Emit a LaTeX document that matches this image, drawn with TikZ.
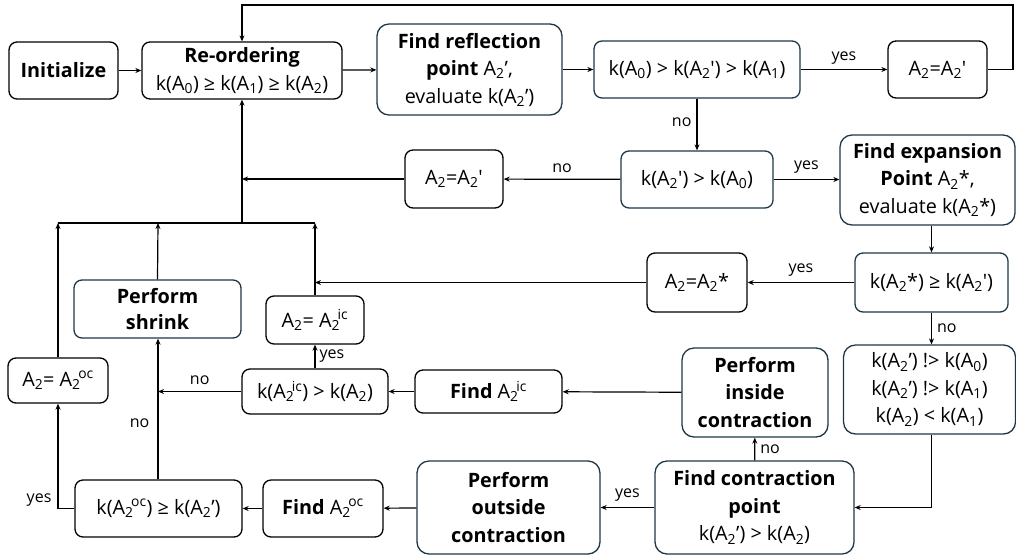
\documentclass[tikz,border=0pt]{standalone}
\usepackage{fontspec}
\setmainfont{Open Sans}
\usetikzlibrary{arrows.meta}
\definecolor{bbord}{RGB}{30,55,72}
\newcommand\sbx[1]{\textsubscript{#1}}
\newcommand\Asx[1]{A\textsubscript{2}\kern-0.12em\textsuperscript{#1}}
\newcommand\qs{\textquotesingle}
\begin{document}
\begin{tikzpicture}[x=1pt,y=-1pt,
  sz/.style n args={2}{minimum width=#1pt, minimum height=#2pt},
  box/.style={draw=black, line width=1.3pt, rounded corners=8pt, align=center, inner sep=0pt, font=\fontsize{19.8}{27.5}\selectfont},
  bbox/.style={box, draw=bbord},
  lbl/.style={font=\fontsize{16}{18}\selectfont, inner sep=0pt},
  arr/.style={line width=1.2pt, -{Stealth[length=6pt,width=5pt]}},
  ln/.style={line width=1.2pt}]
\useasboundingbox (0,0) rectangle (1016,555);
% nodes
\node[box, sz={109}{57}] (init) at (63.5,70.5) {\textbf{Initialize}};
\node[box, sz={200}{57}] (reorder) at (242,70.5) {\textbf{Re-ordering}\\ k(A\sbx0) ≥ k(A\sbx1) ≥ k(A\sbx2)};
\node[bbox, sz={185}{91}, rounded corners=12pt] (reflect) at (469.5,69.5) {\textbf{Find reflection}\\ \textbf{point} A\sbx2’,\\ evaluate k(A\sbx2’)};
\node[bbox, sz={206}{57}] (cond1) at (697,69.5) {k(A\sbx0) > k(A\sbx2\qs) > k(A\sbx1)};
\node[box, sz={99}{57}] (set1) at (937.5,69.5) {A\sbx2=A\sbx2\qs};
\node[bbox, sz={152}{57}] (cond2) at (697,179.5) {k(A\sbx2\qs) > k(A\sbx0)};
\node[box, sz={98}{58}] (set2) at (454,179) {A\sbx2=A\sbx2\qs};
\node[bbox, sz={175}{90}, rounded corners=12pt] (expand) at (927.5,180) {\textbf{Find expansion}\\ \textbf{Point} A\sbx2*,\\ evaluate k(A\sbx2*)};
\node[bbox, sz={153}{59}] (cond3) at (931.5,282.5) {k(A\sbx2*) ≥ k(A\sbx2\qs)};
\node[box, sz={100}{59}] (set3) at (697,282.5) {A\sbx2=A\sbx2*};
\node[bbox, sz={167}{58}] (shrink) at (157.5,309) {\textbf{Perform}\\[-1pt] \textbf{shrink}};
\node[box, sz={98}{48}] (setic) at (315,320) {A\sbx2= \Asx{ic}};
\node[box, sz={100}{45}] (setoc) at (58,380.5) {A\sbx2= \Asx{oc}};
\node[box, sz={146}{45}] (condic) at (315,391.5) {k(\Asx{ic}) > k(A\sbx2)};
\node[box, sz={147}{43}] (findic) at (488.5,391.5) {\textbf{Find} \Asx{ic}};
\node[bbox, sz={146}{89}, rounded corners=12pt] (inside) at (755,392.5) {\textbf{Perform}\\ \textbf{inside}\\ \textbf{contraction}};
\node[bbox, sz={172}{89}, rounded corners=12pt] (cond4) at (929.5,389.5) {k(A\sbx2’) !> k(A\sbx0)\\ k(A\sbx2’) !> k(A\sbx1)\\ k(A\sbx2) < k(A\sbx1)};
\node[bbox, sz={183}{93}, rounded corners=12pt] (outside) at (508.5,507.5) {\textbf{Perform}\\ \textbf{outside}\\ \textbf{contraction}};
\node[bbox, sz={199}{93}, rounded corners=12pt] (contract) at (754.5,507.5) {\textbf{Find contraction}\\ \textbf{point}\\ k(A\sbx2’) > k(A\sbx2)};
\node[box, sz={120}{57}] (findoc) at (323,508.5) {\textbf{Find} \Asx{oc}};
\node[box, sz={167}{57}] (condoc) at (158.5,508.5) {k(\Asx{oc}) ≥ k(A\sbx2’)};
% junction coordinates
\coordinate (topR) at (1013,5);
\coordinate (busL) at (58,223);
\coordinate (busM) at (158,223);
\coordinate (busC) at (242,223);
\coordinate (busR) at (315,223);
\coordinate (j1) at (242,179);
\coordinate (j2) at (315,282.5);
\coordinate (j3) at (158,391.5);
% connectors
\draw[arr] (init) -- (reorder);
\draw[arr] (reorder) -- (reflect);
\draw[arr] (reflect) -- (cond1);
\draw[arr] (cond1) -- node[lbl, above=5pt] {yes} (set1);
\draw[arr] (set1.east) -| (topR) -| (reorder.north);
\draw[arr] (cond1) -- node[lbl, pos=0.45, left=5pt] {no} (cond2);
\draw[arr] (cond2) -- node[lbl, above=6pt] {no} (set2);
\draw[arr] (set2) -- (j1);
\draw[arr] (cond2.east) -- node[lbl, above=6pt] {yes} (cond2.east -| expand.west);
\draw[arr] (expand.south -| cond3.north) -- (cond3.north);
\draw[arr] (cond3) -- node[lbl, above=6pt] {yes} (set3);
\draw[arr] (set3) -- (j2);
\draw[arr] (cond3.south) -- node[lbl, right=5pt] {no} (cond3.south |- cond4.north);
\draw[ln] (busL) -- (busR);
\draw[arr] (busC) -- (reorder.south);
\draw[arr] (setoc.north) -- (busL);
\draw[arr] (shrink.north) -- (busM);
\draw[arr] (setic.north) -- (busR);
\draw[arr] (condic) -- node[lbl, right=4pt] {yes} (setic);
\draw[arr] (condic) -- node[lbl, above=6pt] {no} (j3);
\draw[arr] (condoc.north -| busM) -- node[lbl, pos=0.4, left=8pt] {no} (shrink.south -| busM);
\draw[arr] (findic) -- (condic);
\draw[arr] (inside) -- (findic);
\draw[arr] (contract) -- node[lbl, right=5pt] {no} (inside);
\draw[arr] (cond4.south -| cond3.south) |- (contract.east);
\draw[arr] (contract) -- node[lbl, above=6pt] {yes} (outside);
\draw[arr] (outside) -- (findoc);
\draw[arr] (findoc) -- (condoc);
\draw[arr] (condoc.west) -| node[lbl, pos=0.5, left=6pt, yshift=8pt] {yes} (setoc.south);
\end{tikzpicture}
\end{document}
